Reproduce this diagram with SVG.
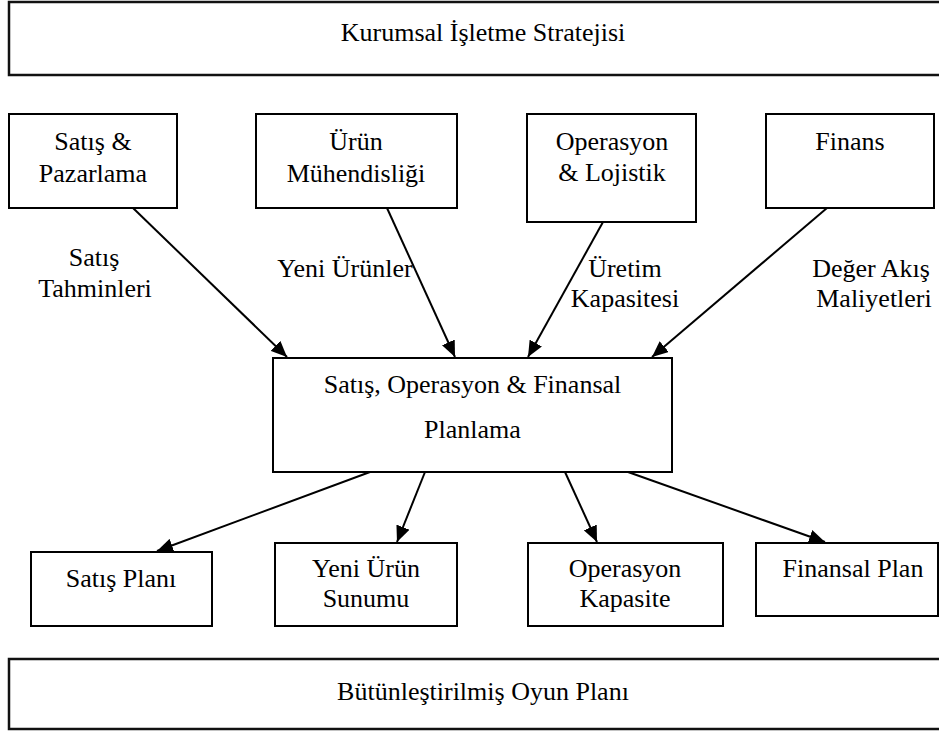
<svg xmlns="http://www.w3.org/2000/svg" width="939" height="733" viewBox="0 0 939 733">
  <defs>
    <marker id="arrow" markerUnits="userSpaceOnUse" markerWidth="16" markerHeight="14" refX="16" refY="7" orient="auto">
      <path d="M0,0 L16,7 L0,14 Z" fill="#000"/>
    </marker>
    <style>
      .box { fill: #fff; stroke: #000; stroke-width: 2; }
      .band { fill: #fff; stroke: #111; stroke-width: 2.5; }
      .t { font-size: 26px; fill: #000; text-anchor: middle; }
      .edge { stroke: #000; stroke-width: 2; fill: none; marker-end: url(#arrow); }
    </style>
  </defs>
  <rect width="939" height="733" fill="#fff"/>

  <g font-family="'Liberation Serif', 'Times New Roman', Times, 'DejaVu Serif', serif">
  <!-- strategy band -->
  <g id="strateji">
    <rect class="band" x="9" y="2" width="940" height="73"/>
    <text class="t" x="483" y="41">Kurumsal İşletme Stratejisi</text>
  </g>

  <!-- input functions -->
  <g id="satis-pazarlama">
    <rect class="box" x="9" y="114" width="168" height="94"/>
    <text class="t" x="93" y="150">Satış &amp;</text>
    <text class="t" x="93" y="182">Pazarlama</text>
  </g>
  <g id="urun-muhendisligi">
    <rect class="box" x="256" y="114" width="201" height="94"/>
    <text class="t" x="356" y="150">Ürün</text>
    <text class="t" x="356" y="182">Mühendisliği</text>
  </g>
  <g id="operasyon-lojistik">
    <rect class="box" x="527" y="114" width="169" height="108"/>
    <text class="t" x="612" y="150">Operasyon</text>
    <text class="t" x="612" y="181">&amp; Lojistik</text>
  </g>
  <g id="finans">
    <rect class="box" x="766" y="114" width="168" height="94"/>
    <text class="t" x="850" y="150">Finans</text>
  </g>

  <!-- central planning -->
  <g id="sofp">
    <rect class="box" x="273" y="358" width="399" height="114"/>
    <text class="t" x="472.5" y="393">Satış, Operasyon &amp; Finansal</text>
    <text class="t" x="472.5" y="438">Planlama</text>
  </g>

  <!-- output plans -->
  <g id="satis-plani">
    <rect class="box" x="31" y="552" width="181" height="74"/>
    <text class="t" x="121" y="587">Satış Planı</text>
  </g>
  <g id="yeni-urun-sunumu">
    <rect class="box" x="275" y="543" width="182" height="83"/>
    <text class="t" x="366" y="577">Yeni Ürün</text>
    <text class="t" x="366" y="607">Sunumu</text>
  </g>
  <g id="operasyon-kapasite">
    <rect class="box" x="528" y="543" width="195" height="83"/>
    <text class="t" x="625" y="577">Operasyon</text>
    <text class="t" x="625" y="607">Kapasite</text>
  </g>
  <g id="finansal-plan">
    <rect class="box" x="756" y="543" width="182" height="73"/>
    <text class="t" x="853" y="577">Finansal Plan</text>
  </g>

  <!-- game plan band -->
  <g id="oyun-plani">
    <rect class="band" x="9" y="659" width="940" height="70"/>
    <text class="t" x="483" y="700">Bütünleştirilmiş Oyun Planı</text>
  </g>

  <!-- connector labels -->
  <g id="labels">
    <text class="t" x="94" y="266">Satış</text>
    <text class="t" x="95" y="297">Tahminleri</text>
    <text class="t" x="345" y="277">Yeni Ürünler</text>
    <text class="t" x="625" y="277">Üretim</text>
    <text class="t" x="625" y="307">Kapasitesi</text>
    <text class="t" x="871" y="277">Değer Akış</text>
    <text class="t" x="874" y="307">Maliyetleri</text>
  </g>
  </g>

  <!-- connectors -->
  <g id="connectors">
    <line class="edge" x1="133" y1="208" x2="287" y2="357"/>
    <line class="edge" x1="387" y1="208" x2="455" y2="357"/>
    <line class="edge" x1="603" y1="222" x2="528" y2="357"/>
    <line class="edge" x1="827" y1="208" x2="652" y2="357"/>
    <line class="edge" x1="370" y1="472" x2="157" y2="551"/>
    <line class="edge" x1="425" y1="472" x2="397" y2="542"/>
    <line class="edge" x1="565" y1="472" x2="597" y2="542"/>
    <line class="edge" x1="628" y1="472" x2="825" y2="542"/>
  </g>
</svg>
